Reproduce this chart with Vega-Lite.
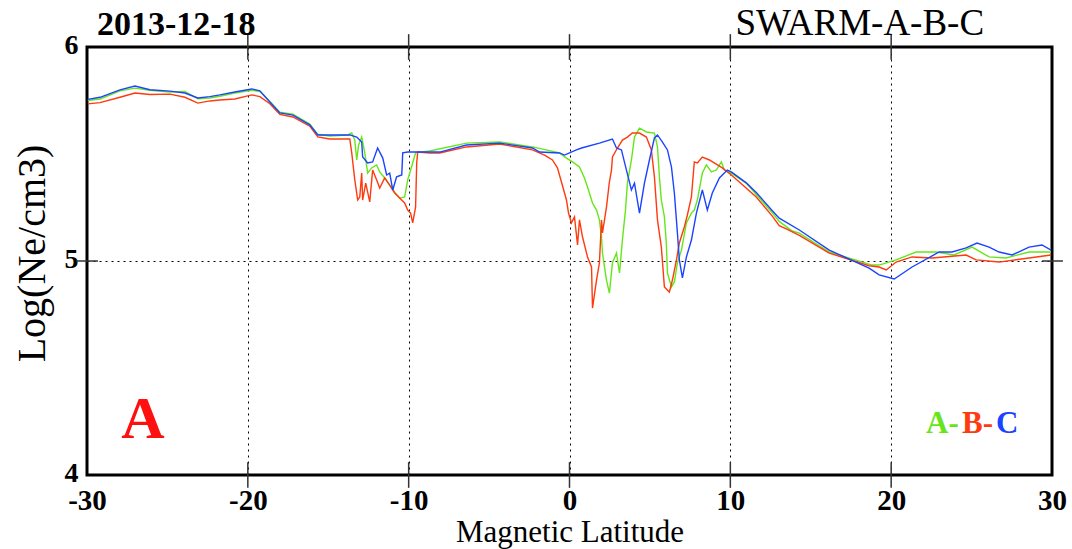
{
  "$schema": "https://vega.github.io/schema/vega-lite/v6.json",
  "width": 965,
  "height": 428,
  "autosize": "none",
  "padding": {"left": 87, "top": 47, "right": 20, "bottom": 74},
  "background": "white",
  "view": {"stroke": "#000", "strokeWidth": 3},
  "datasets": {
    "A": [
      {"lat": -29.95, "ne": 5.750}, {"lat": -29.19, "ne": 5.757}, {"lat": -27.95, "ne": 5.795}, {"lat": -27.02, "ne": 5.808},
      {"lat": -26.09, "ne": 5.798}, {"lat": -24.84, "ne": 5.790}, {"lat": -23.91, "ne": 5.792}, {"lat": -23.11, "ne": 5.758},
      {"lat": -22.36, "ne": 5.762}, {"lat": -21.74, "ne": 5.770}, {"lat": -20.81, "ne": 5.785}, {"lat": -19.75, "ne": 5.798},
      {"lat": -19.25, "ne": 5.792}, {"lat": -18.63, "ne": 5.745}, {"lat": -18.01, "ne": 5.695}, {"lat": -17.20, "ne": 5.686},
      {"lat": -16.15, "ne": 5.640}, {"lat": -15.65, "ne": 5.592}, {"lat": -14.91, "ne": 5.584}, {"lat": -13.79, "ne": 5.589},
      {"lat": -13.54, "ne": 5.598}, {"lat": -13.35, "ne": 5.565}, {"lat": -13.23, "ne": 5.472}, {"lat": -13.11, "ne": 5.542},
      {"lat": -12.92, "ne": 5.579}, {"lat": -12.73, "ne": 5.505}, {"lat": -12.55, "ne": 5.411}, {"lat": -12.30, "ne": 5.435},
      {"lat": -11.99, "ne": 5.449}, {"lat": -11.80, "ne": 5.416}, {"lat": -11.49, "ne": 5.388}, {"lat": -11.18, "ne": 5.355},
      {"lat": -10.87, "ne": 5.322}, {"lat": -10.56, "ne": 5.294}, {"lat": -10.25, "ne": 5.299}, {"lat": -10.06, "ne": 5.379},
      {"lat": -9.75, "ne": 5.458}, {"lat": -9.57, "ne": 5.505}, {"lat": -9.32, "ne": 5.509}, {"lat": -8.70, "ne": 5.514},
      {"lat": -6.40, "ne": 5.551}, {"lat": -4.35, "ne": 5.556}, {"lat": -2.30, "ne": 5.533}, {"lat": -0.62, "ne": 5.505},
      {"lat": -0.19, "ne": 5.481}, {"lat": 0.19, "ne": 5.463}, {"lat": 0.62, "ne": 5.439}, {"lat": 0.93, "ne": 5.388},
      {"lat": 1.12, "ne": 5.346}, {"lat": 1.43, "ne": 5.271}, {"lat": 1.68, "ne": 5.238}, {"lat": 1.86, "ne": 5.192},
      {"lat": 1.99, "ne": 5.112}, {"lat": 2.05, "ne": 5.037}, {"lat": 2.30, "ne": 4.911}, {"lat": 2.48, "ne": 4.850},
      {"lat": 2.67, "ne": 4.991}, {"lat": 2.92, "ne": 5.037}, {"lat": 3.11, "ne": 4.944}, {"lat": 3.29, "ne": 5.098},
      {"lat": 3.48, "ne": 5.238}, {"lat": 3.60, "ne": 5.364}, {"lat": 3.85, "ne": 5.472}, {"lat": 4.04, "ne": 5.579},
      {"lat": 4.35, "ne": 5.621}, {"lat": 4.78, "ne": 5.603}, {"lat": 5.28, "ne": 5.598}, {"lat": 5.47, "ne": 5.533},
      {"lat": 5.59, "ne": 5.393}, {"lat": 5.71, "ne": 5.285}, {"lat": 5.90, "ne": 5.206}, {"lat": 6.02, "ne": 5.084},
      {"lat": 6.09, "ne": 4.944}, {"lat": 6.34, "ne": 4.879}, {"lat": 6.52, "ne": 4.902}, {"lat": 6.71, "ne": 4.991},
      {"lat": 6.96, "ne": 5.051}, {"lat": 7.27, "ne": 5.178}, {"lat": 7.58, "ne": 5.224}, {"lat": 7.76, "ne": 5.238},
      {"lat": 7.95, "ne": 5.285}, {"lat": 8.26, "ne": 5.411}, {"lat": 8.51, "ne": 5.449}, {"lat": 8.82, "ne": 5.416},
      {"lat": 9.13, "ne": 5.425}, {"lat": 9.44, "ne": 5.463}, {"lat": 9.63, "ne": 5.425}, {"lat": 10.06, "ne": 5.411},
      {"lat": 10.99, "ne": 5.364}, {"lat": 12.61, "ne": 5.225}, {"lat": 13.04, "ne": 5.185}, {"lat": 13.85, "ne": 5.140},
      {"lat": 14.29, "ne": 5.130}, {"lat": 16.15, "ne": 5.042}, {"lat": 18.82, "ne": 4.981}, {"lat": 19.25, "ne": 4.981},
      {"lat": 20.31, "ne": 5.005}, {"lat": 21.55, "ne": 5.042}, {"lat": 22.80, "ne": 5.042}, {"lat": 23.91, "ne": 5.028},
      {"lat": 25.03, "ne": 5.065}, {"lat": 26.09, "ne": 5.019}, {"lat": 27.14, "ne": 5.014}, {"lat": 28.57, "ne": 5.042},
      {"lat": 29.94, "ne": 5.042}
    ],
    "B": [
      {"lat": -29.95, "ne": 5.734}, {"lat": -29.19, "ne": 5.740}, {"lat": -27.95, "ne": 5.765}, {"lat": -27.02, "ne": 5.785},
      {"lat": -26.09, "ne": 5.778}, {"lat": -24.84, "ne": 5.780}, {"lat": -23.91, "ne": 5.765}, {"lat": -23.11, "ne": 5.738},
      {"lat": -22.36, "ne": 5.748}, {"lat": -21.74, "ne": 5.752}, {"lat": -20.81, "ne": 5.757}, {"lat": -19.75, "ne": 5.776},
      {"lat": -19.25, "ne": 5.768}, {"lat": -18.63, "ne": 5.735}, {"lat": -18.01, "ne": 5.685}, {"lat": -17.20, "ne": 5.673},
      {"lat": -16.15, "ne": 5.630}, {"lat": -15.65, "ne": 5.580}, {"lat": -14.91, "ne": 5.570}, {"lat": -13.66, "ne": 5.570},
      {"lat": -13.54, "ne": 5.505}, {"lat": -13.35, "ne": 5.379}, {"lat": -13.17, "ne": 5.285}, {"lat": -13.04, "ne": 5.299},
      {"lat": -12.92, "ne": 5.411}, {"lat": -12.86, "ne": 5.285}, {"lat": -12.67, "ne": 5.364}, {"lat": -12.42, "ne": 5.276},
      {"lat": -12.24, "ne": 5.425}, {"lat": -11.99, "ne": 5.379}, {"lat": -11.80, "ne": 5.341}, {"lat": -11.49, "ne": 5.388},
      {"lat": -11.18, "ne": 5.355}, {"lat": -10.87, "ne": 5.318}, {"lat": -10.56, "ne": 5.294}, {"lat": -10.25, "ne": 5.271},
      {"lat": -10.06, "ne": 5.238}, {"lat": -9.88, "ne": 5.224}, {"lat": -9.75, "ne": 5.178}, {"lat": -9.57, "ne": 5.252},
      {"lat": -9.50, "ne": 5.458}, {"lat": -9.44, "ne": 5.509}, {"lat": -8.70, "ne": 5.505}, {"lat": -8.07, "ne": 5.505},
      {"lat": -6.40, "ne": 5.533}, {"lat": -4.35, "ne": 5.547}, {"lat": -2.30, "ne": 5.519}, {"lat": -1.55, "ne": 5.495},
      {"lat": -1.06, "ne": 5.472}, {"lat": -0.75, "ne": 5.435}, {"lat": -0.50, "ne": 5.369}, {"lat": -0.19, "ne": 5.285},
      {"lat": -0.06, "ne": 5.224}, {"lat": 0.12, "ne": 5.178}, {"lat": 0.31, "ne": 5.206}, {"lat": 0.50, "ne": 5.075},
      {"lat": 0.62, "ne": 5.192}, {"lat": 0.81, "ne": 5.112}, {"lat": 1.12, "ne": 5.019}, {"lat": 1.37, "ne": 4.972},
      {"lat": 1.43, "ne": 4.780}, {"lat": 1.68, "ne": 4.911}, {"lat": 1.86, "ne": 4.991}, {"lat": 1.99, "ne": 5.192},
      {"lat": 2.05, "ne": 5.131}, {"lat": 2.30, "ne": 5.252}, {"lat": 2.48, "ne": 5.369}, {"lat": 2.61, "ne": 5.425},
      {"lat": 2.67, "ne": 5.486}, {"lat": 2.98, "ne": 5.528}, {"lat": 3.29, "ne": 5.565}, {"lat": 3.60, "ne": 5.579},
      {"lat": 3.91, "ne": 5.598}, {"lat": 4.35, "ne": 5.598}, {"lat": 4.78, "ne": 5.579}, {"lat": 5.09, "ne": 5.519},
      {"lat": 5.28, "ne": 5.393}, {"lat": 5.47, "ne": 5.192}, {"lat": 5.71, "ne": 5.065}, {"lat": 5.90, "ne": 4.879},
      {"lat": 6.21, "ne": 4.855}, {"lat": 6.40, "ne": 4.911}, {"lat": 6.65, "ne": 5.005}, {"lat": 6.83, "ne": 5.084},
      {"lat": 7.14, "ne": 5.159}, {"lat": 7.33, "ne": 5.215}, {"lat": 7.58, "ne": 5.299}, {"lat": 7.76, "ne": 5.463},
      {"lat": 7.95, "ne": 5.458}, {"lat": 8.26, "ne": 5.486}, {"lat": 8.70, "ne": 5.472}, {"lat": 9.50, "ne": 5.435},
      {"lat": 10.06, "ne": 5.402}, {"lat": 10.56, "ne": 5.369}, {"lat": 11.61, "ne": 5.299}, {"lat": 12.61, "ne": 5.210},
      {"lat": 13.04, "ne": 5.165}, {"lat": 13.48, "ne": 5.150}, {"lat": 14.29, "ne": 5.120}, {"lat": 16.15, "ne": 5.037},
      {"lat": 18.63, "ne": 4.978}, {"lat": 19.25, "ne": 4.972}, {"lat": 19.69, "ne": 4.958}, {"lat": 20.31, "ne": 4.995},
      {"lat": 21.30, "ne": 5.019}, {"lat": 22.55, "ne": 5.014}, {"lat": 24.66, "ne": 5.028}, {"lat": 25.28, "ne": 5.005},
      {"lat": 26.71, "ne": 4.995}, {"lat": 28.57, "ne": 5.014}, {"lat": 29.94, "ne": 5.028}
    ],
    "C": [
      {"lat": -29.95, "ne": 5.755}, {"lat": -29.19, "ne": 5.765}, {"lat": -27.95, "ne": 5.800}, {"lat": -27.02, "ne": 5.818},
      {"lat": -26.09, "ne": 5.800}, {"lat": -24.84, "ne": 5.794}, {"lat": -23.91, "ne": 5.785}, {"lat": -23.11, "ne": 5.762},
      {"lat": -22.36, "ne": 5.768}, {"lat": -21.74, "ne": 5.776}, {"lat": -20.81, "ne": 5.790}, {"lat": -19.75, "ne": 5.804},
      {"lat": -19.25, "ne": 5.795}, {"lat": -18.63, "ne": 5.743}, {"lat": -18.01, "ne": 5.692}, {"lat": -17.20, "ne": 5.682},
      {"lat": -16.15, "ne": 5.636}, {"lat": -15.65, "ne": 5.589}, {"lat": -14.91, "ne": 5.589}, {"lat": -13.66, "ne": 5.589},
      {"lat": -13.23, "ne": 5.579}, {"lat": -12.92, "ne": 5.556}, {"lat": -12.86, "ne": 5.486}, {"lat": -12.55, "ne": 5.458},
      {"lat": -12.24, "ne": 5.463}, {"lat": -11.93, "ne": 5.528}, {"lat": -11.61, "ne": 5.481}, {"lat": -11.37, "ne": 5.402},
      {"lat": -11.18, "ne": 5.411}, {"lat": -10.99, "ne": 5.332}, {"lat": -10.75, "ne": 5.393}, {"lat": -10.43, "ne": 5.402},
      {"lat": -10.37, "ne": 5.505}, {"lat": -10.06, "ne": 5.509}, {"lat": -8.07, "ne": 5.509}, {"lat": -6.40, "ne": 5.542},
      {"lat": -4.35, "ne": 5.551}, {"lat": -2.30, "ne": 5.528}, {"lat": -1.86, "ne": 5.509}, {"lat": -0.62, "ne": 5.505},
      {"lat": -0.31, "ne": 5.495}, {"lat": 0.43, "ne": 5.519}, {"lat": 0.75, "ne": 5.528}, {"lat": 1.86, "ne": 5.551},
      {"lat": 2.67, "ne": 5.570}, {"lat": 2.92, "ne": 5.528}, {"lat": 3.23, "ne": 5.519}, {"lat": 3.54, "ne": 5.425},
      {"lat": 3.85, "ne": 5.332}, {"lat": 4.04, "ne": 5.364}, {"lat": 4.35, "ne": 5.224}, {"lat": 4.66, "ne": 5.364},
      {"lat": 4.97, "ne": 5.472}, {"lat": 5.28, "ne": 5.575}, {"lat": 5.47, "ne": 5.589}, {"lat": 5.78, "ne": 5.556},
      {"lat": 6.09, "ne": 5.519}, {"lat": 6.34, "ne": 5.439}, {"lat": 6.52, "ne": 5.318}, {"lat": 6.71, "ne": 5.131},
      {"lat": 6.83, "ne": 5.005}, {"lat": 7.02, "ne": 4.921}, {"lat": 7.27, "ne": 5.019}, {"lat": 7.58, "ne": 5.098},
      {"lat": 7.89, "ne": 5.224}, {"lat": 8.26, "ne": 5.332}, {"lat": 8.57, "ne": 5.238}, {"lat": 8.88, "ne": 5.318},
      {"lat": 9.32, "ne": 5.388}, {"lat": 9.81, "ne": 5.425}, {"lat": 10.06, "ne": 5.416}, {"lat": 10.99, "ne": 5.365},
      {"lat": 11.61, "ne": 5.320}, {"lat": 12.61, "ne": 5.235}, {"lat": 13.04, "ne": 5.200}, {"lat": 14.29, "ne": 5.145},
      {"lat": 16.15, "ne": 5.051}, {"lat": 18.63, "ne": 4.967}, {"lat": 19.25, "ne": 4.935}, {"lat": 20.19, "ne": 4.916},
      {"lat": 21.30, "ne": 4.972}, {"lat": 22.98, "ne": 5.042}, {"lat": 23.79, "ne": 5.042}, {"lat": 24.66, "ne": 5.061},
      {"lat": 25.34, "ne": 5.084}, {"lat": 26.09, "ne": 5.065}, {"lat": 26.71, "ne": 5.042}, {"lat": 27.52, "ne": 5.028},
      {"lat": 28.57, "ne": 5.065}, {"lat": 29.38, "ne": 5.075}, {"lat": 29.94, "ne": 5.051}
    ],
    "xticks": [
      {"lat": -20, "ne": 5.94, "ne2": 6.06}, {"lat": -10, "ne": 5.94, "ne2": 6.06}, {"lat": 0, "ne": 5.94, "ne2": 6.06},
      {"lat": 10, "ne": 5.94, "ne2": 6.06}, {"lat": 20, "ne": 5.94, "ne2": 6.06},
      {"lat": -20, "ne": 3.94, "ne2": 4.06}, {"lat": -10, "ne": 3.94, "ne2": 4.06}, {"lat": 0, "ne": 3.94, "ne2": 4.06},
      {"lat": 10, "ne": 3.94, "ne2": 4.06}, {"lat": 20, "ne": 3.94, "ne2": 4.06}
    ]
  },
  "encoding": {
    "x": {
      "field": "lat", "type": "quantitative",
      "scale": {"domain": [-30, 30], "nice": false, "zero": false},
      "axis": {
        "values": [-30, -20, -10, 0, 10, 20, 30],
        "labelExpr": "'' + datum.value",
        "grid": true, "gridDash": [2, 4], "gridColor": "#000", "gridWidth": 1,
        "ticks": false, "domain": false,
        "labelFont": "Liberation Serif", "labelFontSize": 29, "labelFontWeight": "bold", "labelColor": "#000",
        "labelPadding": 11, "labelFlush": false, "labelOverlap": false,
        "title": "Magnetic Latitude", "titleFont": "Liberation Serif", "titleFontSize": 31, "titleFontWeight": "normal",
        "titleColor": "#000", "titleY": 66, "titleBaseline": "alphabetic"
      }
    },
    "y": {
      "field": "ne", "type": "quantitative",
      "scale": {"domain": [4, 6], "nice": false, "zero": false},
      "axis": {
        "values": [4, 5, 6],
        "labelExpr": "'' + datum.value",
        "grid": true, "gridDash": [2, 4], "gridColor": "#000", "gridWidth": 1,
        "ticks": false, "domain": false,
        "labelFont": "Liberation Serif", "labelFontSize": 28, "labelFontWeight": "bold", "labelColor": "#000",
        "labelPadding": 9, "labelOffset": -2, "labelFlush": false, "labelOverlap": false,
        "title": "Log(Ne/cm3)", "titleFont": "Liberation Serif", "titleFontSize": 40, "titleFontWeight": "normal",
        "titleColor": "#000", "titleX": -43, "titleY": 206, "titleAngle": -90, "titleBaseline": "alphabetic", "titleAlign": "center"
      }
    }
  },
  "layer": [
    {
      "data": {"name": "xticks"},
      "mark": {"type": "rule", "color": "#333", "strokeWidth": 1.5},
      "encoding": {"y2": {"field": "ne2"}}
    },
    {
      "data": {"values": [{"lat": -30.68, "lat2": -29.32, "ne": 5}, {"lat": 29.38, "lat2": 30.68, "ne": 5}]},
      "mark": {"type": "rule", "color": "#333", "strokeWidth": 1.5},
      "encoding": {"x2": {"field": "lat2"}}
    },
    {"data": {"name": "A"}, "mark": {"type": "line", "color": "#66e61a", "strokeWidth": 1.4}},
    {"data": {"name": "B"}, "mark": {"type": "line", "color": "#ff3a0e", "strokeWidth": 1.4}},
    {"data": {"name": "C"}, "mark": {"type": "line", "color": "#1a44ff", "strokeWidth": 1.4}},
    {
      "data": {"values": [{"lat": -29.38, "ne": 6.056, "label": "2013-12-18"}]},
      "mark": {"type": "text", "align": "left", "baseline": "alphabetic", "font": "Liberation Serif", "fontSize": 34, "fontWeight": "bold", "color": "#000"},
      "encoding": {"text": {"field": "label"}}
    },
    {
      "data": {"values": [{"lat": 25.78, "ne": 6.056, "label": "SWARM-A-B-C"}]},
      "mark": {"type": "text", "align": "right", "baseline": "alphabetic", "font": "Liberation Serif", "fontSize": 37, "fontWeight": "normal", "color": "#000"},
      "encoding": {"text": {"field": "label"}}
    },
    {
      "data": {"values": [{"lat": -26.52, "ne": 4.173, "label": "A"}]},
      "mark": {"type": "text", "align": "center", "baseline": "alphabetic", "font": "Liberation Serif", "fontSize": 60, "fontWeight": "bold", "color": "#ff1010"},
      "encoding": {"text": {"field": "label"}}
    },
    {
      "data": {"values": [
        {"lat": 22.17, "ne": 4.196, "label": "A-", "sat": "A"},
        {"lat": 24.41, "ne": 4.196, "label": "B-", "sat": "B"},
        {"lat": 26.52, "ne": 4.196, "label": "C", "sat": "C"}
      ]},
      "mark": {"type": "text", "align": "left", "baseline": "alphabetic", "font": "Liberation Serif", "fontSize": 31, "fontWeight": "bold"},
      "encoding": {
        "text": {"field": "label"},
        "color": {"field": "sat", "type": "nominal", "scale": {"domain": ["A", "B", "C"], "range": ["#66e61a", "#ff3a0e", "#1a44ff"]}, "legend": null}
      }
    }
  ]
}
